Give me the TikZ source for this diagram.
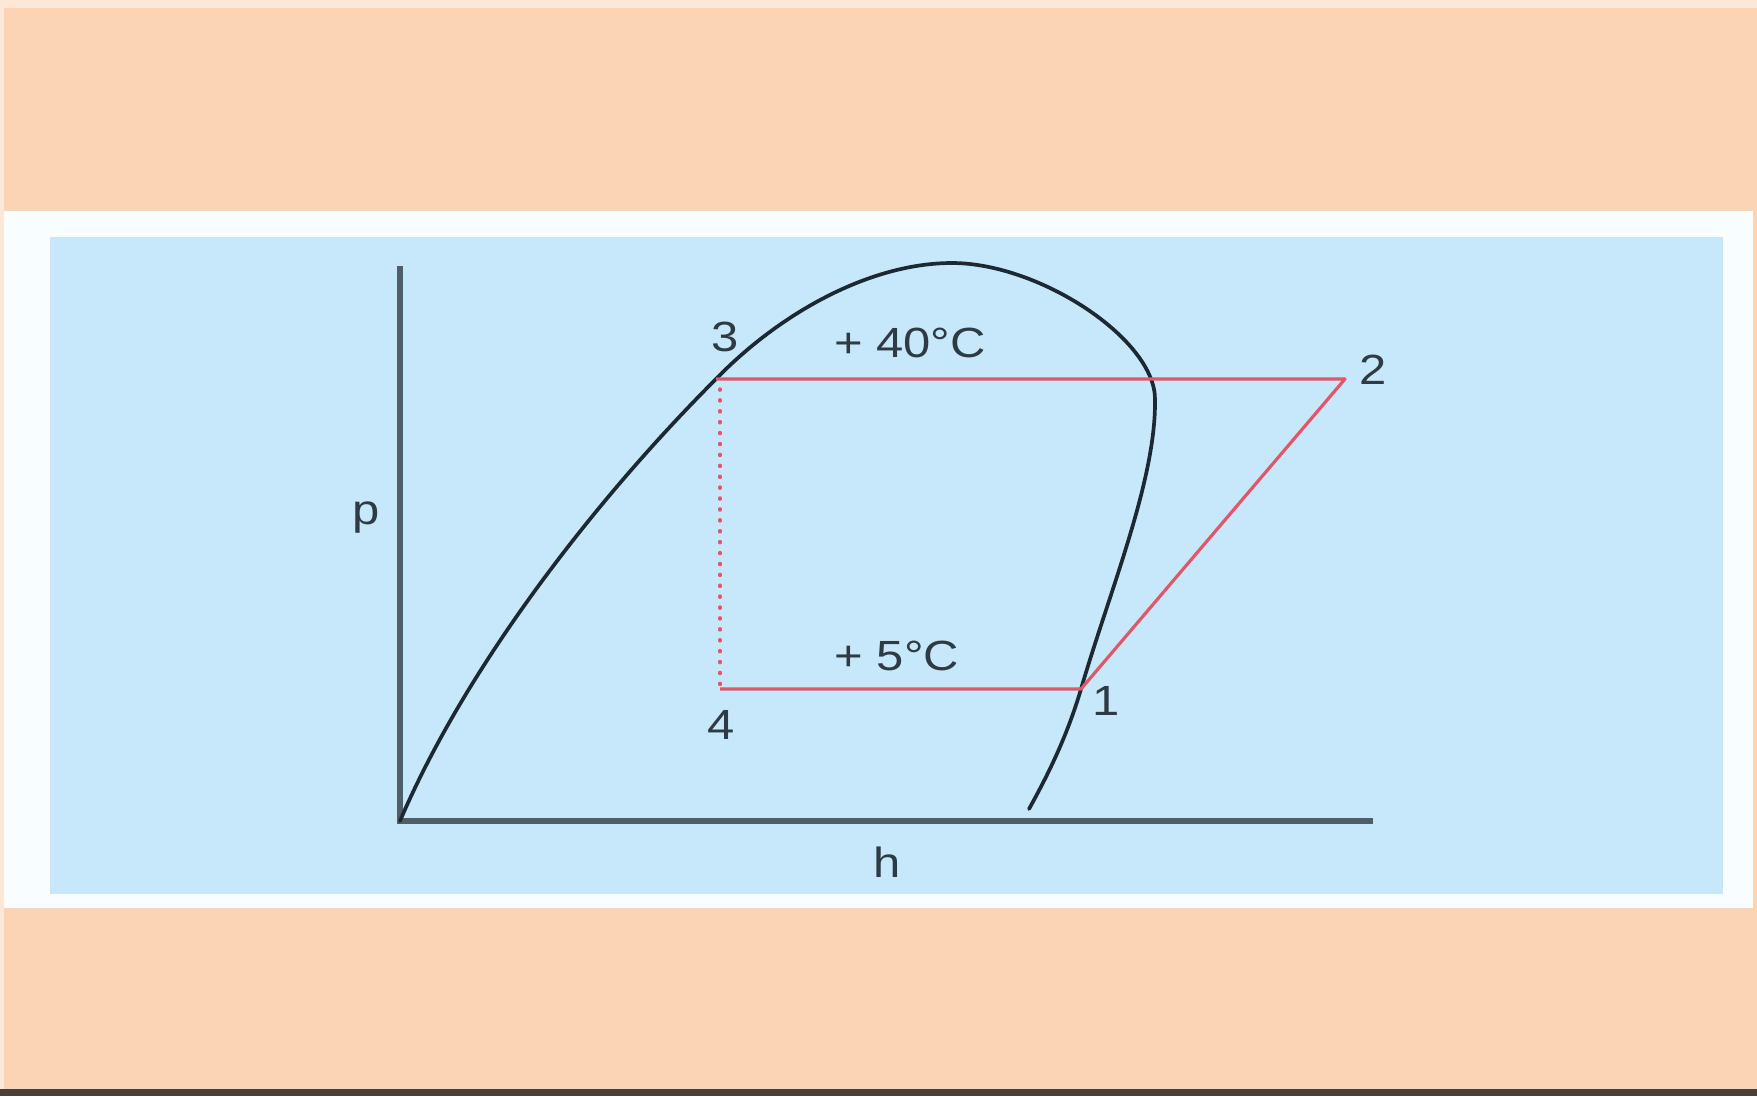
\documentclass[tikz,border=0pt]{standalone}
\usepackage{fontspec}
\newfontfamily\labfont[FakeStretch=1.16]{Liberation Sans}
\definecolor{peach}{HTML}{FBD3B5}
\definecolor{peachlight}{HTML}{FDE8D8}
\definecolor{framewhite}{HTML}{F8FDFF}
\definecolor{skyblue}{HTML}{C7E8FA}
\definecolor{axisgray}{HTML}{4F5F6A}
\definecolor{curveblack}{HTML}{1C2833}
\definecolor{cyclered}{HTML}{E2566A}
\definecolor{labgray}{HTML}{2E3B45}
\definecolor{bottomline}{HTML}{4A403A}
\begin{document}
\begin{tikzpicture}[x=0.01cm,y=-0.01cm,
  lab/.style={text=labgray,font=\labfont\fontsize{12}{14}\selectfont,inner sep=0pt},
  axisline/.style={draw=axisgray,line width=1.6pt},
  dome/.style={draw=curveblack,line width=1.05pt,line join=round,line cap=round},
  cycle/.style={draw=cyclered,line width=0.9pt,line join=round},
  dotline/.style={draw=cyclered,line width=1pt,line cap=round,dash pattern=on 0.3pt off 2.8pt}]
\useasboundingbox (0,0) rectangle (1757,1096);
% background layers
\fill[peach] (0,0) rectangle (1757,1096);
\fill[peachlight] (0,0) rectangle (1757,8);
\fill[peachlight] (0,0) rectangle (4,1090);
\fill[framewhite] (4,211) rectangle (1753,908);
\fill[skyblue] (50,237) rectangle (1723,894);
\fill[bottomline] (0,1089) rectangle (1757,1096);
% axes
\coordinate (O) at (400,821);
\coordinate (ptop) at (400,266);
\coordinate (hend) at (1373,821);
\draw[axisline] (ptop) -- (O) -- (hend);
% cycle points
\coordinate (P3) at (716,379);
\coordinate (P2) at (1345,379);
\coordinate (P1) at (1081,689);
\coordinate (P4) at (720,689);
\coordinate (crit) at (952,263);
\coordinate (rmax) at (1155,400);
\coordinate (dend) at (1029,809);
% saturation dome
\draw[dome] (O) .. controls (463,673) and (588,507) .. (P3)
  .. controls (780,313) and (870,263) .. (crit)
  .. controls (1040,263) and (1156,340) .. (rmax)
  .. controls (1156,480) and (1110,590) .. (P1)
  .. controls (1066,740) and (1045,780) .. (dend);
% cycle
\draw[cycle] (P4) -- (P1) -- (P2) -- (P3);
\path (P3) ++(4,10) coordinate (d3);
\draw[dotline] (d3) -- (P4);
% labels
\node[lab] (l3) at (725,337) {3};
\node[lab] (l40) at (910,343) {+ 40°C};
\node[lab] (l2) at (1373,370) {2};
\node[lab] (lp) at (366,518) {p};
\node[lab] (l5) at (897,656) {+ 5°C};
\node[lab] (l1) at (1106,701) {1};
\node[lab] (l4) at (721,725) {4};
\node[lab] (lh) at (887,862) {h};
\end{tikzpicture}
\end{document}
